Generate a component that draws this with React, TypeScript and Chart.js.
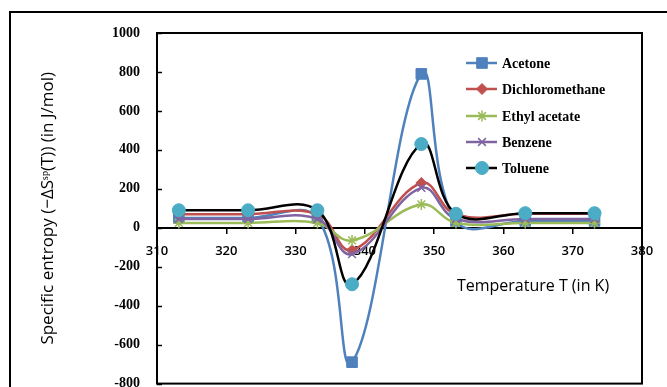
import React, { useEffect, useRef } from 'react';
import { Chart, registerables } from 'chart.js';
import { drawPoint } from 'chart.js/helpers';

Chart.register(...registerables);

const temperatures = [313.15, 323.15, 333.15, 338.15, 348.15, 353.15, 363.15, 373.15];
const acetone = [50, 50, 50, -690, 790, 35, 35, 35];
const dichloromethane = [70, 70, 70, -115, 230, 68, 72, 72];
const ethylAcetate = [25, 25, 25, -65, 120, 25, 25, 25];
const benzene = [45, 45, 45, -135, 205, 45, 45, 45];
const toluene = [90, 90, 90, -290, 430, 72, 75, 75];
const seriesNames = ['Acetone', 'Dichloromethane', 'Ethyl acetate', 'Benzene', 'Toluene'];
const xMin = 310;
const xMax = 380;
const xStep = 10;
const yMin = -800;
const yMax = 1000;
const yStep = 200;
const yTitle = 'Specific entropy (\u2212\u0394S\u02E2\u1D56(T)) (in J/mol)';
const xTitle = 'Temperature T (in K)';

const seriesValues = [acetone, dichloromethane, ethylAcetate, benzene, toluene];
const lineColors = ['#4F81BD', '#C0504D', '#9BBB59', '#8064A2', '#000000'];
const markerColors = ['#4F81BD', '#C0504D', '#9BBB59', '#8064A2', '#4BACC6'];
const markerStyles = ['rect', 'rectRot', 'star', 'crossRot', 'circle'];
const markerRadii = [7.5, 5.5, 5.5, 5.5, 6.5];

const CANVAS_H = 409;

const decorPlugin = {
  id: 'decor',
  beforeDraw(chart: any) {
    const ctx = chart.ctx;
    ctx.save();
    ctx.fillStyle = '#ffffff';
    ctx.fillRect(0, 0, chart.width, chart.height);
    ctx.strokeStyle = '#000000';
    ctx.lineWidth = 2;
    ctx.strokeRect(10, 12, 800, 500);
    ctx.restore();
  },
  afterDraw(chart: any) {
    const ctx = chart.ctx;
    const { left, right, top, bottom } = chart.chartArea;
    ctx.save();
    ctx.strokeStyle = '#000000';
    ctx.lineWidth = 2;
    ctx.strokeRect(left, top, right - left, bottom - top);
    const ys = chart.scales.y;
    ctx.lineWidth = 1.5;
    ys.ticks.forEach((t: any) => {
      const py = Math.round(ys.getPixelForValue(t.value)) + 0.5;
      ctx.beginPath();
      ctx.moveTo(left, py);
      ctx.lineTo(left + 5, py);
      ctx.stroke();
    });
    ctx.fillStyle = '#000000';
    ctx.font = '500 16px "Open Sans"';
    ctx.textAlign = 'center';
    ctx.textBaseline = 'middle';
    ctx.fillText(xTitle, 533, 286);
    const lx0 = 466;
    const lx1 = 497;
    const rowY = [63, 89, 116, 142, 168];
    chart.data.datasets.forEach((ds: any, i: number) => {
      const y = rowY[i];
      ctx.strokeStyle = ds.borderColor;
      ctx.lineWidth = 2.5;
      ctx.beginPath();
      ctx.moveTo(lx0, y);
      ctx.lineTo(lx1, y);
      ctx.stroke();
      ctx.fillStyle = ds.pointBackgroundColor;
      ctx.strokeStyle = ds.pointBorderColor;
      ctx.lineWidth = ds.pointBorderWidth;
      drawPoint(ctx, { pointStyle: ds.pointStyle, radius: ds.pointRadius, rotation: 0, borderWidth: ds.pointBorderWidth }, 482, y);
      ctx.fillStyle = '#000000';
      ctx.font = 'bold 14px "Liberation Serif"';
      ctx.textAlign = 'left';
      ctx.textBaseline = 'middle';
      ctx.fillText(ds.label, 502, y + 1);
    });
    ctx.restore();
  },
};

export default function App() {
  const ref = useRef<HTMLCanvasElement | null>(null);
  useEffect(() => {
    document.body.style.margin = '0';
    document.body.style.overflow = 'hidden';
    const canvas = ref.current;
    if (!canvas) return;
    const datasets = seriesNames.map((name, i) => ({
      label: name,
      data: temperatures.map((t, j) => ({ x: t, y: seriesValues[i][j] })),
      borderColor: lineColors[i],
      backgroundColor: markerColors[i],
      borderWidth: 2.5,
      tension: 0.4,
      pointStyle: markerStyles[i],
      pointRadius: markerRadii[i],
      pointBackgroundColor: markerColors[i],
      pointBorderColor: markerColors[i],
      pointBorderWidth: i === 2 || i === 3 ? 1.5 : 1,
      order: seriesNames.length - i,
      fill: false,
    }));
    const chart = new Chart(canvas, {
      type: 'line',
      data: { datasets },
      plugins: [decorPlugin],
      options: {
        animation: false,
        responsive: false,
        maintainAspectRatio: false,
        layout: { padding: { left: 0, top: 33, right: 25, bottom: 4 } },
        plugins: {
          legend: { display: false },
          tooltip: { enabled: false },
        },
        scales: {
          x: {
            type: 'linear',
            position: { y: 0 } as any,
            min: xMin,
            max: xMax,
            ticks: {
              stepSize: xStep,
              padding: 11,
              color: '#000000',
              font: { family: 'Open Sans', size: 13, weight: '600' as any },
              maxRotation: 0,
            },
            grid: {
              drawOnChartArea: false,
              drawTicks: true,
              tickLength: 5,
              color: '#000000',
              lineWidth: 1.5,
            },
            border: { display: true, color: '#000000', width: 2 },
          },
          y: {
            type: 'linear',
            min: yMin,
            max: yMax,
            afterFit(scale: any) {
              scale.width = 157;
            },
            ticks: {
              stepSize: yStep,
              padding: 17,
              color: '#000000',
              font: { family: 'Liberation Serif', size: 14, weight: 'bold' as any },
              callback: (v: any) => String(v),
            },
            grid: { display: false, drawTicks: false },
            border: { display: false },
            title: {
              display: true,
              text: yTitle,
              color: '#000000',
              font: { family: 'Open Sans', size: 17 },
              padding: { top: 38, bottom: 0 },
            },
          },
        },
      },
    });
    return () => chart.destroy();
  }, []);
  return (
    <div style={{ width: 667, height: 387, overflow: 'hidden' }}>
      <canvas ref={ref} width={667} height={CANVAS_H} style={{ display: 'block', width: 667, height: CANVAS_H }} />
    </div>
  );
}
